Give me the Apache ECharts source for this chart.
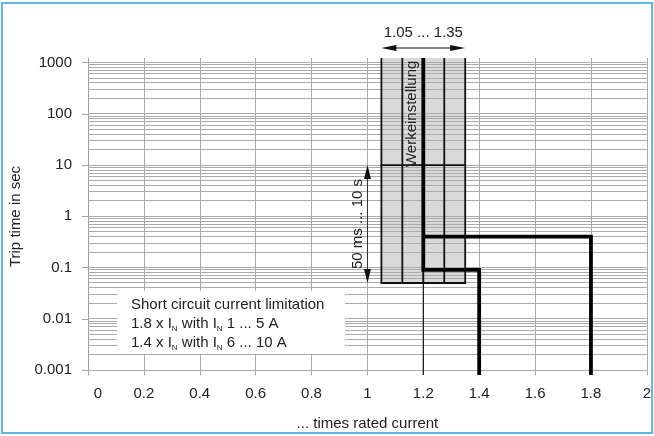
<!DOCTYPE html>
<html><head><meta charset="utf-8">
<script src="https://cdn.jsdelivr.net/npm/echarts@6/dist/echarts.min.js"></script>
<style>html,body{margin:0;padding:0;background:#fff}#c{width:654px;height:436px}</style>
</head><body><div id="c"></div>
<script>
// ---------- data ----------
const xTickValues = [0, 0.2, 0.4, 0.6, 0.8, 1, 1.2, 1.4, 1.6, 1.8, 2];
const xTickLabels = ['0', '0.2', '0.4', '0.6', '0.8', '1', '1.2', '1.4', '1.6', '1.8', '2'];
const yDecades = [0.001, 0.01, 0.1, 1, 10, 100, 1000];
const yDecadeLabels = ['0.001', '0.01', '0.1', '1', '10', '100', '1000'];
const minorSteps = [2, 3, 4, 5, 6, 7, 8, 9];
const yRangeSec = [0.0008, 1230];      // visible time range (s)
const xRange = [0, 2];

// tolerance band (setting range 1.05 ... 1.35), 50 ms ... 10 s
const bandX = [1.05, 1.125, 1.2, 1.275, 1.35];
const bandBottomSec = 0.05;
const bandMidSec = 10;
const factoryX = 1.2;
const timeArrowX = 1.0;
const timeArrowSec = [0.05, 10];

// short circuit current limitation curves
const curveIn6to10 = [[1.2, 1230], [1.2, 0.09], [1.4, 0.09], [1.4, 0.0008]];
const curveIn1to5 = [[1.2, 0.4], [1.8, 0.4], [1.8, 0.0008]];

// ---------- helpers ----------
const L = v => Math.log10(v);
const FONT = "'Liberation Sans', Arial, sans-serif";
const yMinL = L(yRangeSec[0]), yMaxL = L(yRangeSec[1]);

const gridYs = [];
for (let i = 0; i < yDecades.length; i++) {
  gridYs.push(yDecades[i]);
  if (i < yDecades.length - 1) minorSteps.forEach(m => gridYs.push(+(m * yDecades[i]).toPrecision(6)));
}

const chart = echarts.init(document.getElementById('c'), null, {renderer: 'canvas'});

function crisp(v) { return Math.round(v - 0.5) + 0.5; }

const option = {
  animation: false,
  grid: {left: 88, right: 3, top: 58, bottom: 57, containLabel: false},
  xAxis: {
    type: 'value', min: xRange[0], max: xRange[1], interval: 0.2,
    name: '... times rated current', nameLocation: 'middle', nameGap: 41,
    nameTextStyle: {fontFamily: FONT, fontSize: 15, color: '#222'},
    axisLine: {show: true, lineStyle: {color: '#a0a0a0', width: 1}},
    axisTick: {show: true, length: 7, lineStyle: {color: '#a0a0a0'}},
    splitLine: {show: true, lineStyle: {color: '#ababab', width: 1}},
    axisLabel: {
      fontFamily: FONT, fontSize: 15, color: '#222', margin: 11,
      formatter: v => {
        const i = xTickValues.findIndex(t => Math.abs(t - v) < 1e-6);
        const s = i >= 0 ? xTickLabels[i] : '';
        return v === 0 ? '{z|' + s + '}' : s;
      },
      rich: {z: {fontFamily: FONT, fontSize: 15, color: '#222', padding: [0, 0, 0, 20]}}
    }
  },
  yAxis: {
    type: 'value', min: yMinL, max: yMaxL,
    name: 'Trip time in sec', nameLocation: 'middle', nameGap: 58,
    nameTextStyle: {fontFamily: FONT, fontSize: 15, color: '#222'},
    axisLine: {show: true, lineStyle: {color: '#a0a0a0', width: 1}},
    axisTick: {show: true, length: 6, customValues: yDecades.map(L), lineStyle: {color: '#a0a0a0'}},
    splitLine: {show: false},
    axisLabel: {
      fontFamily: FONT, fontSize: 15, color: '#222', margin: 16,
      customValues: yDecades.map(L),
      formatter: v => {
        const i = yDecades.findIndex(d => Math.abs(L(d) - v) < 1e-6);
        return i >= 0 ? yDecadeLabels[i] : '';
      }
    }
  },
  series: [
    {
      type: 'custom', z: 1, silent: true, data: [[bandX[0], L(bandBottomSec)]],
      renderItem: (p, api) => {
        const a = api.coord([bandX[0], yMaxL]);
        const b = api.coord([bandX[bandX.length - 1], L(bandBottomSec)]);
        return {type: 'rect', shape: {x: a[0], y: a[1], width: b[0] - a[0], height: b[1] - a[1]},
          style: {fill: '#d9d9d9'}};
      }
    },
    {
      type: 'custom', z: 2, silent: true, data: gridYs.map(v => [xRange[0], L(v)]),
      renderItem: (p, api) => {
        const y = api.value(1);
        const a = api.coord([xRange[0], y]);
        const b = api.coord([xRange[1], y]);
        const yy = crisp(a[1]);
        return {type: 'line', shape: {x1: a[0], y1: yy, x2: b[0], y2: yy},
          style: {stroke: '#ababab', lineWidth: 1}};
      }
    },
    {
      type: 'custom', z: 3, silent: true, data: [[bandX[0], L(bandBottomSec)]],
      renderItem: (p, api) => {
        const children = [];
        const st = {stroke: '#111', lineWidth: 1.8};
        bandX.forEach(x => {
          const a = api.coord([x, yMaxL]);
          const b = api.coord([x, L(bandBottomSec)]);
          children.push({type: 'line', shape: {x1: a[0], y1: a[1], x2: b[0], y2: b[1]}, style: st});
        });
        [bandBottomSec, bandMidSec].forEach(s => {
          const a = api.coord([bandX[0], L(s)]);
          const b = api.coord([bandX[bandX.length - 1], L(s)]);
          children.push({type: 'line', shape: {x1: a[0] - 0.9, y1: a[1], x2: b[0] + 0.9, y2: b[1]}, style: st});
        });
        const f0 = api.coord([factoryX, yMaxL]);
        const f1 = api.coord([factoryX, yMinL]);
        children.push({type: 'line', shape: {x1: f0[0], y1: f0[1], x2: f1[0], y2: f1[1]}, style: {stroke: '#111', lineWidth: 1.2}});
        return {type: 'group', children};
      }
    },
    {
      type: 'line', z: 4, silent: true, symbol: 'none',
      data: curveIn6to10.map(d => [d[0], L(d[1])]),
      lineStyle: {color: '#000', width: 3.8, join: 'miter', cap: 'butt'}
    },
    {
      type: 'line', z: 4, silent: true, symbol: 'none',
      data: curveIn1to5.map(d => [d[0], L(d[1])]),
      lineStyle: {color: '#000', width: 3.8, join: 'miter', cap: 'butt'}
    },
    {
      type: 'custom', z: 5, silent: true, clip: false, data: [[bandX[0], yMaxL]],
      renderItem: (p, api) => {
        const c = [];
        const dark = '#111';
        const l = api.coord([bandX[0], yMaxL]);
        const r = api.coord([bandX[bandX.length - 1], yMaxL]);
        const ay = l[1] - 10;
        c.push({type: 'line', shape: {x1: l[0] + 4, y1: ay, x2: r[0] - 4, y2: ay}, style: {stroke: dark, lineWidth: 1}});
        c.push({type: 'polygon', shape: {points: [[l[0], ay], [l[0] + 15, ay - 3], [l[0] + 15, ay + 3]]}, style: {fill: dark}});
        c.push({type: 'polygon', shape: {points: [[r[0], ay], [r[0] - 15, ay - 3], [r[0] - 15, ay + 3]]}, style: {fill: dark}});
        const mid = api.coord([factoryX, yMaxL]);
        c.push({type: 'text', x: mid[0], y: l[1] - 25,
          style: {text: bandX[0].toFixed(2) + ' ... ' + bandX[bandX.length - 1].toFixed(2), font: '15px ' + FONT, fill: '#222', align: 'center', verticalAlign: 'middle'}});
        const t0 = api.coord([timeArrowX, L(timeArrowSec[1])]);
        const t1 = api.coord([timeArrowX, L(timeArrowSec[0])]);
        const tx = crisp(t0[0]);
        c.push({type: 'line', shape: {x1: tx, y1: t0[1] + 4, x2: tx, y2: t1[1] - 4}, style: {stroke: '#333', lineWidth: 1}});
        c.push({type: 'polygon', shape: {points: [[tx, t0[1]], [tx - 3.5, t0[1] + 14], [tx + 3.5, t0[1] + 14]]}, style: {fill: dark}});
        c.push({type: 'polygon', shape: {points: [[tx, t1[1]], [tx - 3.5, t1[1] - 14], [tx + 3.5, t1[1] - 14]]}, style: {fill: dark}});
        c.push({type: 'text', x: tx - 10, y: (t0[1] + t1[1]) / 2, rotation: Math.PI / 2,
          style: {text: '50 ms ... 10 s', font: '15px ' + FONT, fill: '#222', align: 'center', verticalAlign: 'middle'}});
        const w0 = api.coord([factoryX, L(100)]);
        c.push({type: 'text', x: w0[0] - 11, y: w0[1], rotation: Math.PI / 2,
          style: {text: 'Werkeinstellung', font: '15px ' + FONT, fill: '#222', align: 'center', verticalAlign: 'middle'}});
        return {type: 'group', children: c};
      }
    }
  ],
  graphic: [
    {type: 'rect', z: 100, shape: {x: 2, y: 3, width: 650, height: 430}, style: {fill: 'none', stroke: '#5cb8e6', lineWidth: 2}},
    {type: 'rect', z: 100, shape: {x: 117, y: 291, width: 228, height: 63}, style: {fill: '#fff'}},
    {type: 'text', z: 101, x: 131, y: 295,
      style: {
        text: 'Short circuit current limitation\n1.8 x I{s|N} with I{s|N} 1 ... 5 A\n1.4 x I{s|N} with I{s|N} 6 ... 10 A',
        font: '15px ' + FONT, fill: '#222', lineHeight: 19,
        rich: {s: {fontSize: 8, fontFamily: FONT, fill: '#222', lineHeight: 6, verticalAlign: 'bottom'}}
      }}
  ]
};
chart.setOption(option);
</script></body></html>
